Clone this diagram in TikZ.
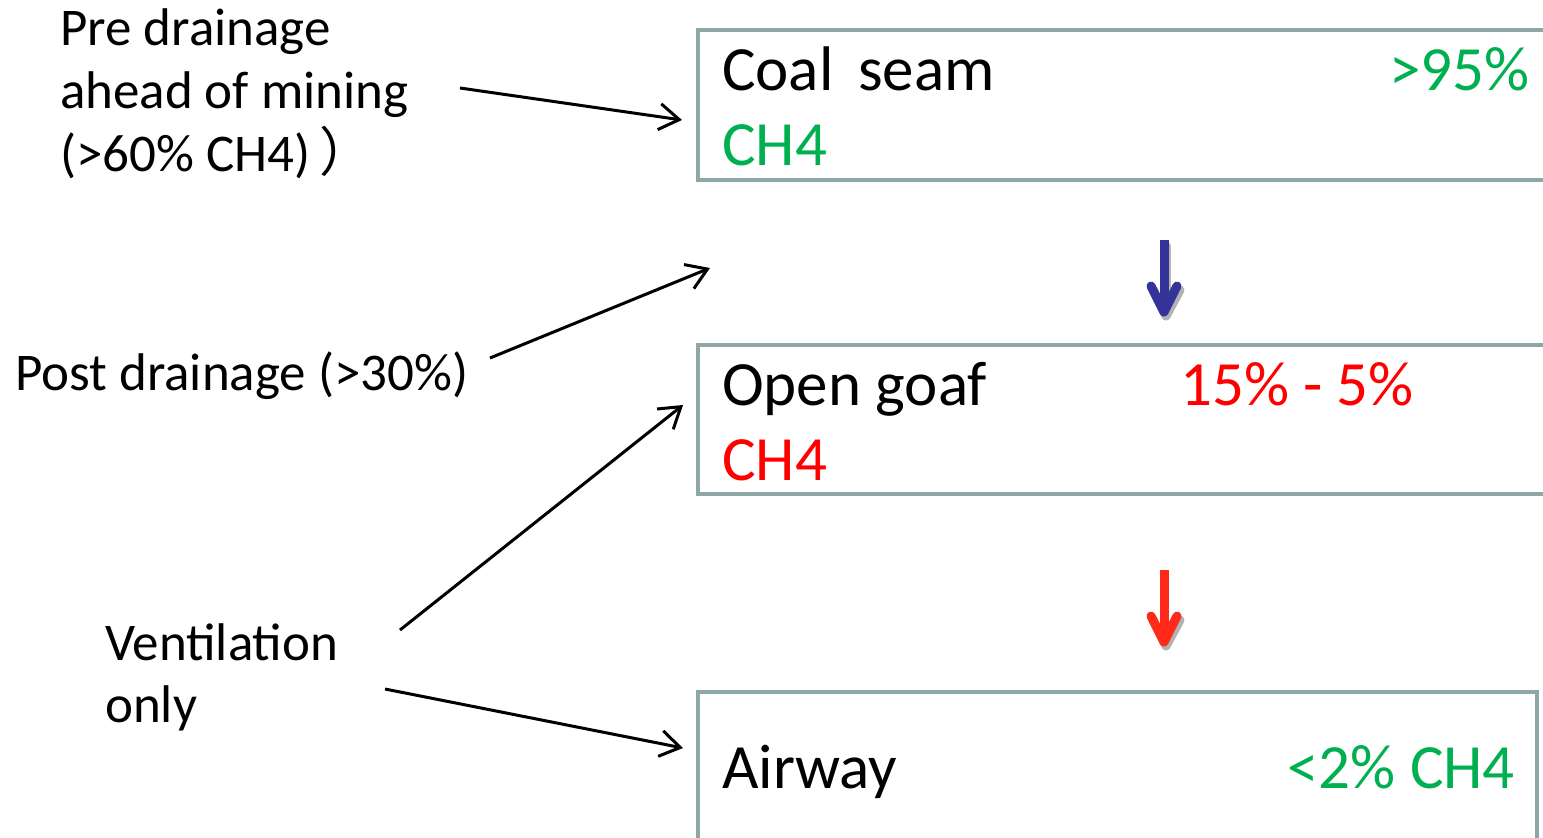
\documentclass[tikz,border=0pt]{standalone}
\usepackage{fontspec}
\setmainfont{Carlito}
\newfontfamily\cjkfont{Noto Sans CJK SC}
\usetikzlibrary{arrows.meta}
\definecolor{boxgray}{HTML}{8FA6A7}
\definecolor{mygreen}{HTML}{00B050}
\definecolor{myred}{HTML}{FF0000}
\definecolor{myblue}{HTML}{333399}
\definecolor{arrred}{HTML}{FF2A1A}
\begin{document}
\begin{tikzpicture}[x=1pt,y=-1pt,
  boxframe/.style={draw=boxgray,line width=4.5pt},
  lefttxt/.style={anchor=base west,inner sep=0pt,font=\fontsize{53}{63}\selectfont},
  boxtxt/.style={inner sep=0pt,font=\fontsize{63}{75}\selectfont},
  pointer/.style={draw=black,line width=3pt,-{Straight Barb[length=20pt,width=26pt,line width=3pt]}},
  flowarrow/.style={line width=9pt,line cap=round,line join=round}
]
\useasboundingbox (0,0) rectangle (1543,838);
\clip (0,0) rectangle (1543,838);
\fill[white] (0,0) rectangle (1543,838);

% boxes
\draw[boxframe] (698,30) rectangle (1570,180);
\draw[boxframe] (698,345) rectangle (1570,494);
\draw[boxframe] (698,692) rectangle (1537,860);

% box texts
\node[boxtxt,anchor=base west] (coal) at (722,90) {Coal\, seam};
\node[boxtxt,anchor=base east,text=mygreen] (p95) at (1530,90) {>95\%};
\node[boxtxt,anchor=base west,text=mygreen] (ch4a) at (722,165) {CH4};
\node[boxtxt,anchor=base west] (goaf) at (722,405) {Open goaf};
\node[boxtxt,anchor=base west,text=myred] (p15) at (1180,405) {15\% - 5\%};
\node[boxtxt,anchor=base west,text=myred] (ch4b) at (722,480) {CH4};
\node[boxtxt,anchor=base west] (airway) at (722,788) {Airway};
\node[boxtxt,anchor=base east,text=mygreen] (p2) at (1515,788) {<2\% CH4};

% left texts
\node[lefttxt] (pre1) at (60,45) {Pre drainage};
\node[lefttxt] (pre2) at (60,108) {ahead of mining};
\node[lefttxt] (pre3) at (60,171) {(>60\% CH4)\,{\cjkfont ）}};
\node[lefttxt] (post) at (15,390) {Post drainage (>30\%)};
\node[lefttxt] (vent1) at (105,660) {Ventilation};
\node[lefttxt] (vent2) at (105,722) {only};

% connector coordinates
\coordinate (a1s) at (460,88);
\coordinate (a1e) at (682,120);
\coordinate (a2s) at (490,358);
\coordinate (a2e) at (710,268);
\coordinate (a3s) at (400,630);
\coordinate (a3e) at (683,405);
\coordinate (a4s) at (385,689);
\coordinate (a4e) at (683,748);
\draw[pointer] (a1s) -- (a1e);
\draw[pointer] (a2s) -- (a2e);
\draw[pointer] (a3s) -- (a3e);
\draw[pointer] (a4s) -- (a4e);

% flow arrows
\coordinate (b1t) at (1164,244);
\coordinate (b1b) at (1164,312);
\coordinate (b2t) at (1164,574);
\coordinate (b2b) at (1164,642);
\draw[flowarrow,draw=gray!60] ([shift={(2,2)}]b1t) -- ([shift={(2,2)}]b1b);
\draw[flowarrow,draw=gray!60] (1153,290) -- (1166,316) -- (1180,290);
\draw[flowarrow,draw=myblue,line cap=butt] (1164,240) -- (b1b);
\draw[flowarrow,draw=myblue] (1151,286) -- (b1b) -- (1177,286);
\draw[flowarrow,draw=gray!60] (1153,620) -- (1166,646) -- (1180,620);
\draw[flowarrow,draw=arrred,line cap=butt] (1164,570) -- (b2b);
\draw[flowarrow,draw=arrred] (1151,616) -- (b2b) -- (1177,616);
\end{tikzpicture}
\end{document}
